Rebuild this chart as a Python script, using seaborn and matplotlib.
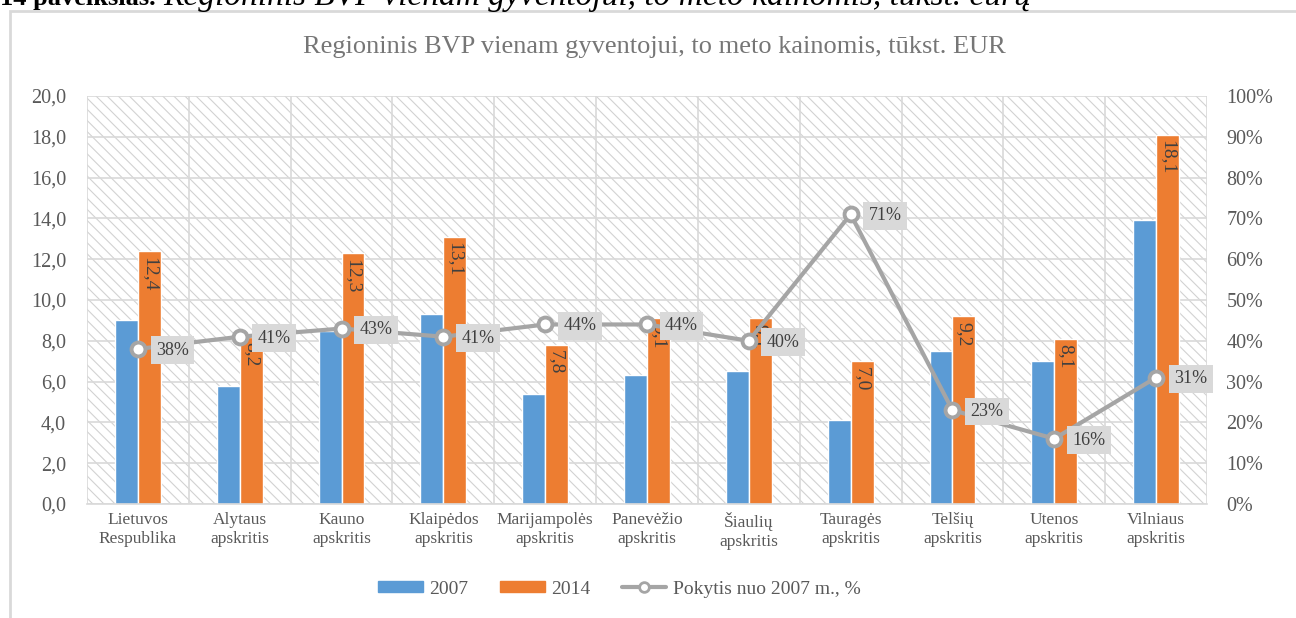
import numpy as np
import pandas as pd
import seaborn as sns
from matplotlib import pyplot as plt
from matplotlib.patches import Patch, Rectangle
from matplotlib.lines import Line2D
from matplotlib.ticker import FuncFormatter

regions = ["Lietuvos\nRespublika", "Alytaus\napskritis", "Kauno\napskritis",
           "Klaipėdos\napskritis", "Marijampolės\napskritis", "Panevėžio\napskritis",
           "Šiaulių\napskritis", "Tauragės\napskritis", "Telšių\napskritis",
           "Utenos\napskritis", "Vilniaus\napskritis"]
gdp_2007 = [9.0, 5.8, 8.5, 9.3, 5.4, 6.3, 6.5, 4.1, 7.5, 7.0, 13.9]
gdp_2014 = [12.4, 8.2, 12.3, 13.1, 7.8, 9.1, 9.1, 7.0, 9.2, 8.1, 18.1]
change_pct = [38, 41, 43, 41, 44, 44, 40, 71, 23, 16, 31]
years = ["2007", "2014"]

BLUE = "#5b9bd5"
ORANGE = "#ed7d31"
LINE = "#a5a5a5"
GRID = "#d9d9d9"
TXT = "#595959"

sns.set_style("white")
plt.rcParams["font.family"] = ["Liberation Serif", "DejaVu Serif"]
plt.rcParams["hatch.linewidth"] = 0.8

df = pd.DataFrame({
    "region": regions * 2,
    "value": gdp_2007 + gdp_2014,
    "year": [years[0]] * len(regions) + [years[1]] * len(regions),
})

fig = plt.figure(figsize=(12.96, 6.18), dpi=100)
ax = fig.add_axes([87 / 1296, 1 - 504 / 618, 1120 / 1296, 408 / 618])

# hatched plot background
ax.add_patch(Rectangle((0, 0), 1, 1, transform=ax.transAxes, facecolor="white",
                       edgecolor="#d2d2d2", hatch="\\\\\\", lw=0, zorder=0))

sns.barplot(data=df, x="region", y="value", hue="year", palette=[BLUE, ORANGE],
            width=0.45, gap=0, saturation=1, legend=False, ax=ax, zorder=2)

ax.set_xlim(-0.5, len(regions) - 0.5)
ax.set_ylim(0, 20)
ax.set_yticks(np.arange(0, 20.1, 2))
ax.yaxis.set_major_formatter(FuncFormatter(lambda v, p: f"{v:.1f}".replace(".", ",")))
ax.set_xticks(np.arange(-0.5, len(regions), 1), minor=True)
ax.set_axisbelow(True)
ax.grid(axis="y", which="major", color=GRID, lw=1.2, zorder=0.5)
ax.grid(axis="x", which="minor", color=GRID, lw=1.2, zorder=0.5)
ax.grid(axis="x", which="major", visible=False)
ax.tick_params(axis="x", which="major", length=0, labelsize=12.5, labelcolor=TXT, pad=6)
ax.tick_params(axis="x", which="minor", length=7, color=GRID, width=1.2)
ax.tick_params(axis="y", length=0, labelsize=14.5, labelcolor=TXT, pad=15)
ax.set_xlabel("")
ax.set_ylabel("")
for s in ["top", "right", "left"]:
    ax.spines[s].set_visible(False)
ax.spines["bottom"].set_color(GRID)
ax.spines["bottom"].set_linewidth(1.2)

# value labels inside the 2014 bars
for rect, v in zip(ax.containers[1], gdp_2014):
    ax.annotate(f"{v:.1f}".replace(".", ","),
                (rect.get_x() + rect.get_width() / 2, rect.get_height()),
                xytext=(0, -4), textcoords="offset points", rotation=-90,
                ha="center", va="top", fontsize=14, color="#404040", zorder=3)

ax2 = ax.twinx()
xs = np.arange(len(regions))
ax2.plot(xs, change_pct, color=LINE, lw=3, marker="o", markersize=10,
         markerfacecolor="white", markeredgecolor=LINE, markeredgewidth=2.8, zorder=4)
for x, p in zip(xs, change_pct):
    ax2.annotate(f"{p}%", (x, p), xytext=(13, -1), textcoords="offset points",
                 ha="left", va="center", fontsize=13, color="#404040", zorder=6,
                 bbox=dict(boxstyle="square,pad=0.3", fc=GRID, ec="none"))
ax2.set_ylim(0, 100)
ax2.set_yticks(np.arange(0, 101, 10))
ax2.yaxis.set_major_formatter(FuncFormatter(lambda v, p: f"{v:.0f}%"))
ax2.tick_params(axis="y", length=0, labelsize=14.5, labelcolor=TXT, pad=14)
for s in ax2.spines.values():
    s.set_visible(False)

fig.text(0.505, 1 - 47 / 618, "Regioninis BVP vienam gyventojui, to meto kainomis, tūkst. EUR",
         ha="center", va="center", fontsize=19, color="#767676")

# caption of the document, cut at the top edge
fig.text(0, 1 - 5 / 618, "14 paveikslas.", ha="left", va="baseline",
         fontsize=19, fontweight="bold", color="black")
fig.text(163 / 1296, 1 - 5 / 618,
         "Regioninis BVP vienam gyventojui, to meto kainomis, tūkst. eurų",
         ha="left", va="baseline", fontsize=24, style="italic", color="black")

# chart frame
fig.add_artist(Rectangle((10 / 1296, -0.05), 1.2, 1.05 - 11 / 618, transform=fig.transFigure,
                         fill=False, edgecolor=GRID, lw=2))

handles = [Patch(color=BLUE), Patch(color=ORANGE),
           Line2D([], [], color=LINE, lw=3, marker="o", markersize=7,
                  markerfacecolor="white", markeredgecolor=LINE, markeredgewidth=2)]
fig.legend(handles, ["2007", "2014", "Pokytis nuo 2007 m., %"], ncol=3,
           loc="center", bbox_to_anchor=(0.478, 1 - 589 / 618), frameon=False,
           fontsize=14, labelcolor=TXT, handlelength=2.3, handleheight=0.45,
           columnspacing=1.6, handletextpad=0.35)

fig.savefig("out.png", dpi=100)
